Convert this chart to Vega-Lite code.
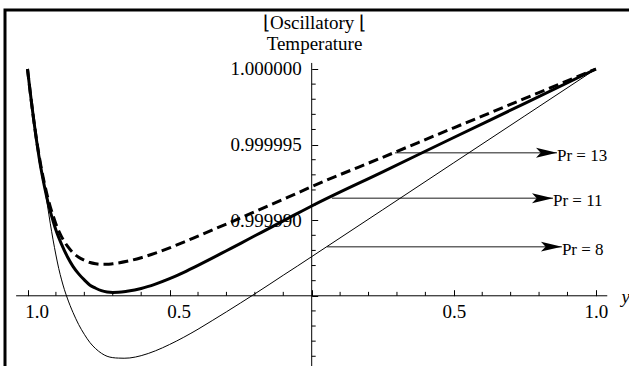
{
  "$schema": "https://vega.github.io/schema/vega-lite/v6.json",
  "width": 700,
  "height": 420,
  "autosize": {"type": "none"},
  "padding": {"left": 5, "top": 10, "right": 0, "bottom": 0},
  "background": "white",
  "config": {
    "view": {"stroke": "black", "strokeWidth": 3},
    "font": "Liberation Serif",
    "axis": {"labelOverlap": false}
  },
  "datasets": {
    "curves": [
      {"Pr": 8, "x": -1, "T": 1},
      {"Pr": 8, "x": -0.99, "T": 0.9999986},
      {"Pr": 8, "x": -0.98, "T": 0.9999972},
      {"Pr": 8, "x": -0.97, "T": 0.9999958},
      {"Pr": 8, "x": -0.96, "T": 0.9999945},
      {"Pr": 8, "x": -0.95, "T": 0.9999933},
      {"Pr": 8, "x": -0.94, "T": 0.99999215},
      {"Pr": 8, "x": -0.93, "T": 0.999991},
      {"Pr": 8, "x": -0.92, "T": 0.9999898},
      {"Pr": 8, "x": -0.91, "T": 0.9999887},
      {"Pr": 8, "x": -0.9, "T": 0.9999877},
      {"Pr": 8, "x": -0.89, "T": 0.9999868},
      {"Pr": 8, "x": -0.88, "T": 0.99998605},
      {"Pr": 8, "x": -0.87, "T": 0.9999854},
      {"Pr": 8, "x": -0.86, "T": 0.99998485},
      {"Pr": 8, "x": -0.85, "T": 0.99998435},
      {"Pr": 8, "x": -0.84, "T": 0.9999839},
      {"Pr": 8, "x": -0.82, "T": 0.9999831},
      {"Pr": 8, "x": -0.8, "T": 0.99998245},
      {"Pr": 8, "x": -0.78, "T": 0.9999819},
      {"Pr": 8, "x": -0.76, "T": 0.9999815},
      {"Pr": 8, "x": -0.74, "T": 0.9999812},
      {"Pr": 8, "x": -0.72, "T": 0.999981},
      {"Pr": 8, "x": -0.7, "T": 0.99998091},
      {"Pr": 8, "x": -0.68, "T": 0.99998088},
      {"Pr": 8, "x": -0.66, "T": 0.99998087},
      {"Pr": 8, "x": -0.64, "T": 0.99998089},
      {"Pr": 8, "x": -0.62, "T": 0.99998095},
      {"Pr": 8, "x": -0.6, "T": 0.99998104},
      {"Pr": 8, "x": -0.55, "T": 0.99998136},
      {"Pr": 8, "x": -0.5, "T": 0.99998178},
      {"Pr": 8, "x": -0.45, "T": 0.99998226},
      {"Pr": 8, "x": -0.4, "T": 0.99998279},
      {"Pr": 8, "x": -0.35, "T": 0.99998336},
      {"Pr": 8, "x": -0.3, "T": 0.99998394},
      {"Pr": 8, "x": -0.25, "T": 0.99998453},
      {"Pr": 8, "x": -0.2, "T": 0.99998513},
      {"Pr": 8, "x": -0.15, "T": 0.99998574},
      {"Pr": 8, "x": -0.1, "T": 0.99998636},
      {"Pr": 8, "x": -0.05, "T": 0.99998697},
      {"Pr": 8, "x": 0, "T": 0.99998759},
      {"Pr": 8, "x": 0.25, "T": 0.99999069},
      {"Pr": 8, "x": 0.5, "T": 0.9999938},
      {"Pr": 8, "x": 0.75, "T": 0.9999969},
      {"Pr": 8, "x": 1, "T": 1},

      {"Pr": 11, "x": -1, "T": 1},
      {"Pr": 11, "x": -0.99, "T": 0.9999984},
      {"Pr": 11, "x": -0.98, "T": 0.9999969},
      {"Pr": 11, "x": -0.97, "T": 0.9999955},
      {"Pr": 11, "x": -0.96, "T": 0.99999425},
      {"Pr": 11, "x": -0.95, "T": 0.99999315},
      {"Pr": 11, "x": -0.94, "T": 0.9999922},
      {"Pr": 11, "x": -0.93, "T": 0.99999135},
      {"Pr": 11, "x": -0.92, "T": 0.9999906},
      {"Pr": 11, "x": -0.91, "T": 0.99998995},
      {"Pr": 11, "x": -0.9, "T": 0.99998935},
      {"Pr": 11, "x": -0.88, "T": 0.9999884},
      {"Pr": 11, "x": -0.86, "T": 0.9999876},
      {"Pr": 11, "x": -0.84, "T": 0.99998695},
      {"Pr": 11, "x": -0.82, "T": 0.99998645},
      {"Pr": 11, "x": -0.8, "T": 0.99998605},
      {"Pr": 11, "x": -0.78, "T": 0.9999857},
      {"Pr": 11, "x": -0.76, "T": 0.9999855},
      {"Pr": 11, "x": -0.74, "T": 0.99998534},
      {"Pr": 11, "x": -0.72, "T": 0.99998525},
      {"Pr": 11, "x": -0.7, "T": 0.99998522},
      {"Pr": 11, "x": -0.68, "T": 0.99998523},
      {"Pr": 11, "x": -0.65, "T": 0.9999853},
      {"Pr": 11, "x": -0.6, "T": 0.99998548},
      {"Pr": 11, "x": -0.55, "T": 0.99998577},
      {"Pr": 11, "x": -0.5, "T": 0.99998613},
      {"Pr": 11, "x": -0.45, "T": 0.99998655},
      {"Pr": 11, "x": -0.4, "T": 0.99998701},
      {"Pr": 11, "x": -0.35, "T": 0.99998749},
      {"Pr": 11, "x": -0.3, "T": 0.99998798},
      {"Pr": 11, "x": -0.25, "T": 0.99998847},
      {"Pr": 11, "x": -0.2, "T": 0.99998897},
      {"Pr": 11, "x": -0.15, "T": 0.99998946},
      {"Pr": 11, "x": -0.1, "T": 0.99998996},
      {"Pr": 11, "x": -0.05, "T": 0.99999045},
      {"Pr": 11, "x": 0, "T": 0.99999094},
      {"Pr": 11, "x": 0.25, "T": 0.9999932},
      {"Pr": 11, "x": 0.5, "T": 0.99999547},
      {"Pr": 11, "x": 0.75, "T": 0.99999773},
      {"Pr": 11, "x": 1, "T": 1},

      {"Pr": 13, "x": -1, "T": 1},
      {"Pr": 13, "x": -0.99, "T": 0.9999984},
      {"Pr": 13, "x": -0.98, "T": 0.9999969},
      {"Pr": 13, "x": -0.97, "T": 0.99999555},
      {"Pr": 13, "x": -0.96, "T": 0.99999435},
      {"Pr": 13, "x": -0.95, "T": 0.9999933},
      {"Pr": 13, "x": -0.94, "T": 0.9999924},
      {"Pr": 13, "x": -0.93, "T": 0.9999916},
      {"Pr": 13, "x": -0.92, "T": 0.9999909},
      {"Pr": 13, "x": -0.91, "T": 0.9999903},
      {"Pr": 13, "x": -0.9, "T": 0.99998975},
      {"Pr": 13, "x": -0.88, "T": 0.9999889},
      {"Pr": 13, "x": -0.86, "T": 0.9999883},
      {"Pr": 13, "x": -0.84, "T": 0.99998785},
      {"Pr": 13, "x": -0.82, "T": 0.99998755},
      {"Pr": 13, "x": -0.8, "T": 0.99998735},
      {"Pr": 13, "x": -0.78, "T": 0.9999872},
      {"Pr": 13, "x": -0.76, "T": 0.99998712},
      {"Pr": 13, "x": -0.74, "T": 0.99998708},
      {"Pr": 13, "x": -0.72, "T": 0.99998708},
      {"Pr": 13, "x": -0.7, "T": 0.99998712},
      {"Pr": 13, "x": -0.65, "T": 0.99998728},
      {"Pr": 13, "x": -0.6, "T": 0.99998752},
      {"Pr": 13, "x": -0.55, "T": 0.99998782},
      {"Pr": 13, "x": -0.5, "T": 0.99998817},
      {"Pr": 13, "x": -0.45, "T": 0.99998855},
      {"Pr": 13, "x": -0.4, "T": 0.99998895},
      {"Pr": 13, "x": -0.35, "T": 0.99998935},
      {"Pr": 13, "x": -0.3, "T": 0.99998975},
      {"Pr": 13, "x": -0.25, "T": 0.99999016},
      {"Pr": 13, "x": -0.2, "T": 0.99999057},
      {"Pr": 13, "x": -0.15, "T": 0.99999098},
      {"Pr": 13, "x": -0.1, "T": 0.99999139},
      {"Pr": 13, "x": -0.05, "T": 0.9999918},
      {"Pr": 13, "x": 0, "T": 0.99999222},
      {"Pr": 13, "x": 0.25, "T": 0.99999416},
      {"Pr": 13, "x": 0.5, "T": 0.99999611},
      {"Pr": 13, "x": 0.75, "T": 0.99999805},
      {"Pr": 13, "x": 1, "T": 1}
    ],
    "arrows": [
      {"label": "Pr = 13", "level": 0.99999446, "from": 0.293, "to": 0.8631},
      {"label": "Pr = 11", "level": 0.99999145, "from": 0.071, "to": 0.849},
      {"label": "Pr = 8", "level": 0.99998825, "from": 0.054, "to": 0.8804}
    ],
    "xMinor": [
      {"v": -0.9}, {"v": -0.8}, {"v": -0.7}, {"v": -0.6}, {"v": -0.4}, {"v": -0.3}, {"v": -0.2}, {"v": -0.1},
      {"v": 0.1}, {"v": 0.2}, {"v": 0.3}, {"v": 0.4}, {"v": 0.6}, {"v": 0.7}, {"v": 0.8}, {"v": 0.9}
    ],
    "yMinor": [
      {"v": 0.999981}, {"v": 0.999982}, {"v": 0.999983}, {"v": 0.999984},
      {"v": 0.999986}, {"v": 0.999987}, {"v": 0.999988}, {"v": 0.999989},
      {"v": 0.999991}, {"v": 0.999992}, {"v": 0.999993}, {"v": 0.999994},
      {"v": 0.999996}, {"v": 0.999997}, {"v": 0.999998}, {"v": 0.999999}
    ]
  },
  "layer": [
    {
      "data": {"values": [{}]},
      "mark": {"type": "rule", "color": "black", "strokeWidth": 1},
      "encoding": {
        "x": {
          "datum": -1.04,
          "type": "quantitative",
          "scale": {"domain": [-1.07917, 1.38389], "nice": false, "zero": false},
          "axis": {
            "orient": "bottom",
            "offset": -134.3,
            "domain": false,
            "grid": false,
            "values": [-1, -0.5, 0, 0.5, 1],
            "tickColor": "black",
            "tickWidth": 1,
            "tickSize": -6,
            "labelExpr": "datum.value === 0 ? '' : format(abs(datum.value), '.1f')",
            "labelFont": "Liberation Serif",
            "labelFontSize": 19,
            "labelColor": "black",
            "labelPadding": 13,
            "labelOffset": {"condition": {"test": "datum.value < 0", "value": 9}, "value": 0},
            "labelFlush": false,
            "labelOverlap": false,
            "labelBound": false,
            "title": "y",
            "titleFont": "Liberation Serif",
            "titleFontStyle": "italic",
            "titleFontWeight": "normal",
            "titleFontSize": 19,
            "titleColor": "black",
            "titleAngle": 0,
            "titleAlign": "left",
            "titleBaseline": "alphabetic",
            "titleX": 616,
            "titleY": 6.5
          }
        },
        "x2": {"datum": 1.04},
        "y": {
          "datum": 0.999985,
          "type": "quantitative",
          "scale": {"domain": [0.999976124, 1.000003902], "nice": false, "zero": false},
          "axis": {
            "orient": "left",
            "offset": -306.7,
            "domain": false,
            "grid": false,
            "values": [0.999985, 0.99999, 0.999995, 1],
            "tickColor": "black",
            "tickWidth": 1,
            "tickSize": -6,
            "labelExpr": "datum.value > 0.9999875 ? format(datum.value, '.6f') : ''",
            "labelFont": "Liberation Serif",
            "labelFontSize": 19,
            "labelColor": "black",
            "labelPadding": 16.5,
            "labelFlush": false,
            "labelOverlap": false,
            "labelBound": false,
            "title": ["⌊Oscillatory ⌊", "Temperature"],
            "titleFont": "Liberation Serif",
            "titleFontWeight": "normal",
            "titleFontSize": 19,
            "titleColor": "black",
            "titleAngle": 0,
            "titleAlign": "center",
            "titleBaseline": "alphabetic",
            "titleLineHeight": 21.5,
            "titleX": 2.3,
            "titleY": 18.3
          }
        }
      }
    },
    {
      "data": {"values": [{}]},
      "mark": {"type": "rule", "color": "black", "strokeWidth": 1},
      "encoding": {
        "x": {"datum": 0, "type": "quantitative", "scale": {"domain": [-1.07917, 1.38389], "nice": false, "zero": false}},
        "y": {"datum": 0.99998, "type": "quantitative", "scale": {"domain": [0.999976124, 1.000003902], "nice": false, "zero": false}},
        "y2": {"datum": 1.0000004}
      }
    },
    {
      "data": {"name": "xMinor"},
      "mark": {"type": "rule", "color": "black", "strokeWidth": 1},
      "encoding": {
        "x": {"field": "v", "type": "quantitative", "scale": {"domain": [-1.07917, 1.38389], "nice": false, "zero": false}},
        "y": {"datum": 0.999985, "type": "quantitative", "scale": {"domain": [0.999976124, 1.000003902], "nice": false, "zero": false}},
        "y2": {"datum": 0.99998526}
      }
    },
    {
      "data": {"name": "yMinor"},
      "mark": {"type": "rule", "color": "black", "strokeWidth": 1},
      "encoding": {
        "x": {"datum": 0, "type": "quantitative", "scale": {"domain": [-1.07917, 1.38389], "nice": false, "zero": false}},
        "x2": {"datum": 0.01407},
        "y": {"field": "v", "type": "quantitative", "scale": {"domain": [0.999976124, 1.000003902], "nice": false, "zero": false}}
      }
    },
    {
      "data": {"name": "arrows"},
      "mark": {"type": "rule", "color": "#666666", "strokeWidth": 1.5},
      "encoding": {
        "x": {"field": "from", "type": "quantitative", "scale": {"domain": [-1.07917, 1.38389], "nice": false, "zero": false}},
        "x2": {"field": "to"},
        "y": {"field": "level", "type": "quantitative", "scale": {"domain": [0.999976124, 1.000003902], "nice": false, "zero": false}}
      }
    },
    {
      "data": {"name": "arrows"},
      "mark": {"type": "point", "shape": "M1,0L-1,-0.47L-0.55,0L-1,0.47Z", "filled": true, "color": "black", "opacity": 1, "size": 441, "strokeWidth": 0},
      "encoding": {
        "x": {"field": "to", "type": "quantitative", "scale": {"domain": [-1.07917, 1.38389], "nice": false, "zero": false}},
        "y": {"field": "level", "type": "quantitative", "scale": {"domain": [0.999976124, 1.000003902], "nice": false, "zero": false}},
        "xOffset": {"value": -10.5}
      }
    },
    {
      "data": {"name": "arrows"},
      "mark": {"type": "text", "align": "left", "baseline": "alphabetic", "dy": 8, "font": "Liberation Serif", "fontSize": 17, "color": "black"},
      "encoding": {
        "x": {"field": "to", "type": "quantitative", "scale": {"domain": [-1.07917, 1.38389], "nice": false, "zero": false}},
        "y": {"field": "level", "type": "quantitative", "scale": {"domain": [0.999976124, 1.000003902], "nice": false, "zero": false}},
        "text": {"field": "label"}
      }
    },
    {
      "data": {"name": "curves"},
      "transform": [{"filter": "datum.Pr === 8"}],
      "mark": {"type": "line", "color": "black", "strokeWidth": 1, "interpolate": "monotone"},
      "encoding": {
        "x": {"field": "x", "type": "quantitative", "scale": {"domain": [-1.07917, 1.38389], "nice": false, "zero": false}},
        "y": {"field": "T", "type": "quantitative", "scale": {"domain": [0.999976124, 1.000003902], "nice": false, "zero": false}}
      }
    },
    {
      "data": {"name": "curves"},
      "transform": [{"filter": "datum.Pr === 11"}],
      "mark": {"type": "line", "color": "black", "strokeWidth": 3, "interpolate": "monotone"},
      "encoding": {
        "x": {"field": "x", "type": "quantitative", "scale": {"domain": [-1.07917, 1.38389], "nice": false, "zero": false}},
        "y": {"field": "T", "type": "quantitative", "scale": {"domain": [0.999976124, 1.000003902], "nice": false, "zero": false}}
      }
    },
    {
      "data": {"name": "curves"},
      "transform": [{"filter": "datum.Pr === 13"}],
      "mark": {"type": "line", "color": "black", "strokeWidth": 3, "strokeDash": [10, 5], "interpolate": "monotone"},
      "encoding": {
        "x": {"field": "x", "type": "quantitative", "scale": {"domain": [-1.07917, 1.38389], "nice": false, "zero": false}},
        "y": {"field": "T", "type": "quantitative", "scale": {"domain": [0.999976124, 1.000003902], "nice": false, "zero": false}}
      }
    }
  ]
}
